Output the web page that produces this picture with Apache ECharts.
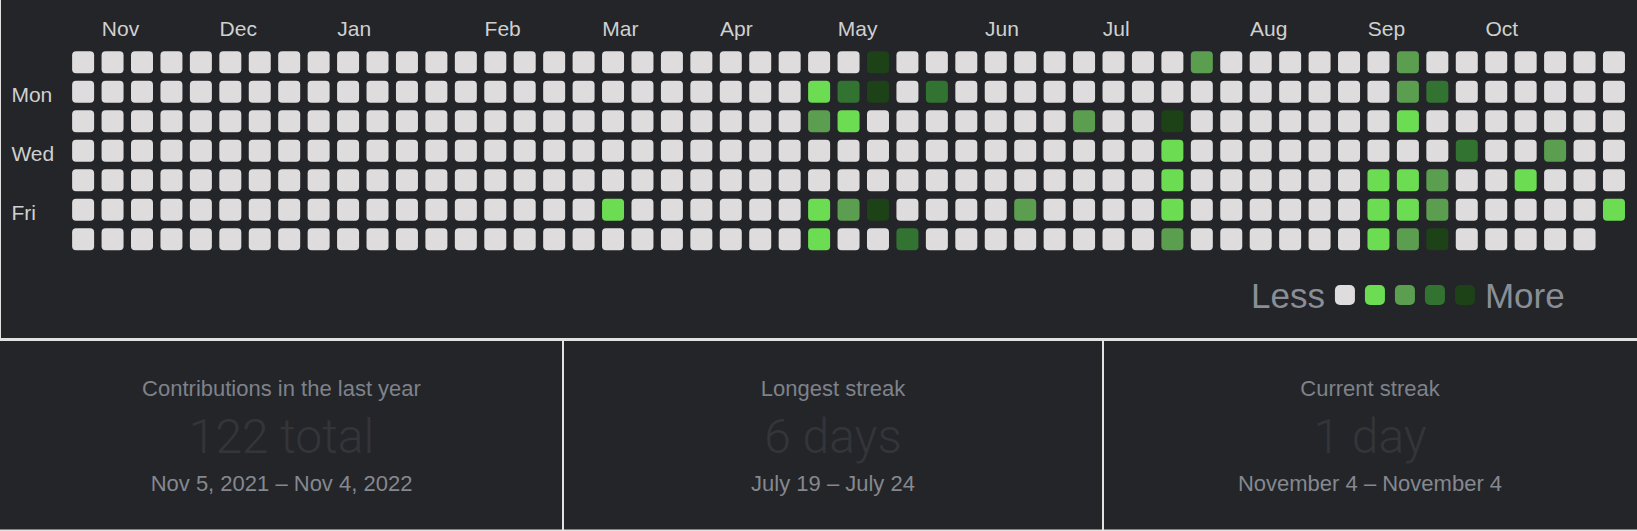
<!DOCTYPE html>
<html>
<head>
<meta charset="utf-8">
<script src="https://cdn.jsdelivr.net/npm/echarts@6/dist/echarts.min.js"></script>
<style>
  html, body { margin: 0; padding: 0; background: #232529; }
  #chart { width: 1637px; height: 531px; }
</style>
</head>
<body>
<div id="chart"></div>
<script>
// ---- Data (weeks = columns 0..52, Oct 31 2021 .. Nov 4 2022) ----
const dayNames = ['Sun', 'Mon', 'Tue', 'Wed', 'Thu', 'Fri', 'Sat'];
const dayTickLabels = ['', 'Mon', '', 'Wed', '', 'Fri', ''];
const monthNames = ['Nov', 'Dec', 'Jan', 'Feb', 'Mar', 'Apr', 'May', 'Jun', 'Jul', 'Aug', 'Sep', 'Oct'];
const monthStartWeeks = [1, 5, 9, 14, 18, 22, 26, 31, 35, 40, 44, 48];

// contributions per weekday row, one value per week (null = day not in range)
const sun = [0,0,0,0,0,0,0,0,0,0,0,0,0,0,0,0,0,0,0,0,0,0,0,0,0,0,0,9,0,0,0,0,0,0,0,0,0,0,3,0,0,0,0,0,0,3,0,0,0,0,0,0,0];
const mon = [0,0,0,0,0,0,0,0,0,0,0,0,0,0,0,0,0,0,0,0,0,0,0,0,0,1,5,9,0,5,0,0,0,0,0,0,0,0,0,0,0,0,0,0,0,3,5,0,0,0,0,0,0];
const tue = [0,0,0,0,0,0,0,0,0,0,0,0,0,0,0,0,0,0,0,0,0,0,0,0,0,3,1,0,0,0,0,0,0,0,3,0,0,9,0,0,0,0,0,0,0,1,0,0,0,0,0,0,0];
const wed = [0,0,0,0,0,0,0,0,0,0,0,0,0,0,0,0,0,0,0,0,0,0,0,0,0,0,0,0,0,0,0,0,0,0,0,0,0,1,0,0,0,0,0,0,0,0,0,5,0,0,3,0,0];
const thu = [0,0,0,0,0,0,0,0,0,0,0,0,0,0,0,0,0,0,0,0,0,0,0,0,0,0,0,0,0,0,0,0,0,0,0,0,0,1,0,0,0,0,0,0,1,1,3,0,0,1,0,0,0];
const fri = [0,0,0,0,0,0,0,0,0,0,0,0,0,0,0,0,0,0,1,0,0,0,0,0,0,1,3,9,0,0,0,0,3,0,0,0,0,1,0,0,0,0,0,0,1,1,3,0,0,0,0,0,1];
const sat = [0,0,0,0,0,0,0,0,0,0,0,0,0,0,0,0,0,0,0,0,0,0,0,0,0,1,0,0,5,0,0,0,0,0,0,0,0,3,0,0,0,0,0,0,1,3,9,0,0,0,0,0,null];

const levelColors = ['#dedcdd', '#6cdc53', '#5c9e50', '#337332', '#1d4217'];
const summaryTitles = ['Contributions in the last year', 'Longest streak', 'Current streak'];
const summaryValues = ['122 total', '6 days', '1 day'];
const summaryRanges = ['Nov 5, 2021 – Nov 4, 2022', 'July 19 – July 24', 'November 4 – November 4'];

// ---- Build series data from the rows ----
const rows = [sun, mon, tue, wed, thu, fri, sat];
const cells = [];
rows.forEach(function (row, d) {
  row.forEach(function (v, w) {
    if (v !== null) cells.push([w, d, v]);
  });
});

const FONT = '"Liberation Sans", Arial, Helvetica, sans-serif';
const chart = echarts.init(document.getElementById('chart'), null, { renderer: 'svg' });

const panelCenters = [281.5, 833, 1370];
const graphics = [
  { type: 'rect', shape: { x: 0, y: 0, width: 1, height: 338 }, style: { fill: '#e2e2e2' } },
  { type: 'rect', shape: { x: 0, y: 338, width: 1637, height: 3 }, style: { fill: '#e2e2e2' } },
  { type: 'rect', shape: { x: 562, y: 341, width: 2, height: 190 }, style: { fill: '#e2e2e2' } },
  { type: 'rect', shape: { x: 1102, y: 341, width: 2, height: 190 }, style: { fill: '#e2e2e2' } },
  { type: 'rect', shape: { x: 0, y: 529.5, width: 1637, height: 1.5 }, style: { fill: '#e2e2e2' } }
];
panelCenters.forEach(function (cx, i) {
  graphics.push({ type: 'text', x: cx, y: 388, style: { text: summaryTitles[i], fill: '#7f828a', font: '22px ' + FONT, textAlign: 'center', textVerticalAlign: 'middle' } });
  graphics.push({ type: 'text', x: cx, y: 436, style: { text: summaryValues[i], fill: '#333539', font: '300 48px Roboto, ' + FONT, textAlign: 'center', textVerticalAlign: 'middle' } });
  graphics.push({ type: 'text', x: cx, y: 483, style: { text: summaryRanges[i], fill: '#85888f', font: '22px ' + FONT, textAlign: 'center', textVerticalAlign: 'middle' } });
});

chart.setOption({
  backgroundColor: '#232529',
  animation: false,
  textStyle: { fontFamily: FONT },
  grid: { left: 68.4, top: 47.5, width: 1560.3, height: 206.5, containLabel: false },
  xAxis: {
    type: 'value', position: 'top', min: 0, max: 53, interval: 1,
    axisLine: { show: false }, axisTick: { show: false }, splitLine: { show: false },
    axisLabel: {
      color: '#d0d0d0', fontSize: 21, align: 'left', margin: 9, padding: [0, 0, 0, 4],
      formatter: function (v) {
        const i = monthStartWeeks.indexOf(v);
        return i >= 0 ? monthNames[i] : '';
      }
    }
  },
  yAxis: {
    type: 'category', inverse: true, data: dayNames,
    axisLine: { show: false }, axisTick: { show: false }, splitLine: { show: false },
    axisLabel: {
      color: '#d0d0d0', fontSize: 21, align: 'left', margin: 57, interval: 0,
      formatter: function (v, i) { return dayTickLabels[i] ? '{d|' + dayTickLabels[i] + '}' : ''; },
      rich: { d: { color: '#d0d0d0', fontSize: 21, fontFamily: FONT, padding: [5, 0, 0, 0] } }
    }
  },
  visualMap: {
    type: 'piecewise', orient: 'horizontal', seriesIndex: 0, dimension: 2,
    left: 1236, top: 262.5,
    itemWidth: 20, itemHeight: 20, itemGap: 10,
    text: ['More', 'Less'],
    textStyle: { color: '#8a8e97', fontSize: 35, fontFamily: FONT },
    selectedMode: false, hoverLink: false,
    pieces: [
      { min: 0, max: 0, color: levelColors[0] },
      { min: 1, max: 2, color: levelColors[1] },
      { min: 3, max: 4, color: levelColors[2] },
      { min: 5, max: 7, color: levelColors[3] },
      { min: 8, color: levelColors[4] }
    ]
  },
  series: [{
    type: 'custom',
    data: cells,
    encode: { x: 0, y: 1 },
    renderItem: function (params, api) {
      const c = api.coord([api.value(0) + 0.5, api.value(1)]);
      const s = 22;
      return {
        type: 'rect',
        shape: { x: c[0] - s / 2, y: c[1] - s / 2, width: s, height: s, r: 4 },
        style: { fill: api.visual('color') }
      };
    }
  }],
  graphic: graphics
});
</script>
</body>
</html>
